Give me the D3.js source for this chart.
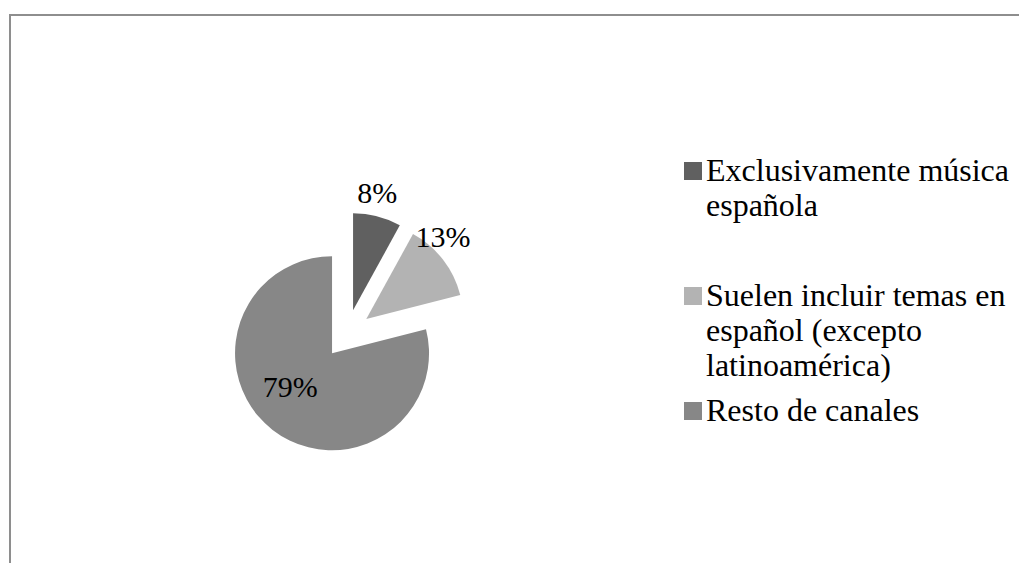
<!DOCTYPE html>
<html>
<head>
<meta charset="utf-8">
<script src="https://cdn.jsdelivr.net/npm/d3@7"></script>
</head>
<body style="margin:0">
<svg id="chart" width="1019" height="563" font-family="Liberation Serif"></svg>
<script>
// Share of music channels by Spanish-language content
const categories = [
  "Exclusivamente música española",
  "Suelen incluir temas en español (excepto latinoamérica)",
  "Resto de canales"
];
const values = [8, 13, 79];
const valueLabels = ["8%", "13%", "79%"];
// Legend text broken into the lines it is drawn on
const legendLines = [
  ["Exclusivamente música", "española"],
  ["Suelen incluir temas en", "español (excepto", "latinoamérica)"],
  ["Resto de canales"]
];
const sliceColors = ["#606060", "#b3b3b3", "#878787"];

const FONT = "Liberation Serif";

const svg = d3.select("#chart");
const W = 1019, H = 563;

// chart area frame (runs off the right and bottom edges)
svg.append("path")
  .attr("d", `M10,${H} V15 H${W}`)
  .attr("fill", "none")
  .attr("stroke", "#8e8e8e")
  .attr("stroke-width", 2);

const cx = 347, cy = 334, radius = 97, explode = 24.4;

const pie = d3.pie().sort(null).value(d => d).startAngle(0).endAngle(2 * Math.PI);
const arcs = pie(values);
const arc = d3.arc().innerRadius(0).outerRadius(radius);

// unit vector along a slice's bisector (screen coordinates)
const dir = a => {
  const m = (a.startAngle + a.endAngle) / 2;
  return [Math.sin(m), -Math.cos(m)];
};

const g = svg.append("g").attr("transform", `translate(${cx},${cy})`);

// every slice is pulled out from the centre along its bisector
g.selectAll("path.slice")
  .data(arcs)
  .join("path")
  .attr("class", "slice")
  .attr("d", arc)
  .attr("fill", (d, i) => sliceColors[i])
  .attr("transform", d => {
    const [ux, uy] = dir(d);
    return `translate(${ux * explode},${uy * explode})`;
  });

// value labels: small slices get their label just beyond the rim,
// the dominant slice carries its label inside
arcs.forEach((d, i) => {
  const [ux, uy] = dir(d);
  const share = (d.endAngle - d.startAngle) / (2 * Math.PI);
  let x, y;
  if (share < 0.5) {
    const rr = radius + explode;
    x = cx + ux * rr;
    y = cy + uy * rr - 13;
  } else {
    const rr = radius * 0.5 + explode;
    x = cx + ux * rr - 12;
    y = cy + uy * rr + 5;
  }
  svg.append("text")
    .attr("x", x).attr("y", y)
    .attr("font-family", FONT)
    .attr("font-size", 30)
    .attr("text-anchor", "middle")
    .text(valueLabels[i]);
});

// legend
const legendX = 684, textX = 706, lineH = 35;
const entryBaselines = [181, 306, 421];
legendLines.forEach((lines, i) => {
  const b = entryBaselines[i];
  svg.append("rect")
    .attr("x", legendX).attr("y", b - 19)
    .attr("width", 18).attr("height", 18)
    .attr("fill", sliceColors[i]);
  lines.forEach((ln, j) => {
    svg.append("text")
      .attr("x", textX).attr("y", b + j * lineH)
      .attr("font-family", FONT)
      .attr("font-size", 32)
      .text(ln);
  });
});
</script>
</body>
</html>
